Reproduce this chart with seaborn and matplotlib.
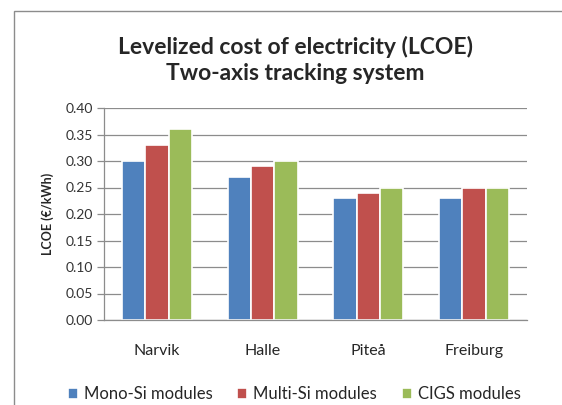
import matplotlib
matplotlib.use("Agg")
import matplotlib.pyplot as plt
import seaborn as sns
import pandas as pd
from matplotlib.patches import Rectangle

cities = ['Narvik', 'Halle', 'Piteå', 'Freiburg']
modules = ['Mono-Si modules', 'Multi-Si modules', 'CIGS modules']
mono_si = [0.30, 0.27, 0.23, 0.23]
multi_si = [0.33, 0.29, 0.24, 0.25]
cigs = [0.36, 0.30, 0.25, 0.25]
yticks = [0.00, 0.05, 0.10, 0.15, 0.20, 0.25, 0.30, 0.35, 0.40]
colors = ['#4F81BD', '#C0504D', '#9BBB59']

df = pd.DataFrame({'City': cities * 3,
                   'Module': [m for m in modules for _ in cities],
                   'LCOE': mono_si + multi_si + cigs})

sns.set_style('white')
plt.rcParams['font.family'] = ['Lato', 'DejaVu Sans']

fig = plt.figure(figsize=(5.62, 4.05), dpi=100)
ax = fig.add_axes([104 / 562, 1 - 320 / 405, (527 - 104) / 562, (320 - 108) / 405])

sns.barplot(data=df, x='City', y='LCOE', hue='Module', order=cities, hue_order=modules,
            palette=colors, width=0.66, edgecolor='white', linewidth=1.2,
            saturation=1, ax=ax, legend=True)

ax.set_ylim(0, 0.40)
ax.set_xlim(-0.5, 3.5)
ax.set_yticks(yticks)
ax.set_yticklabels([f'{v:.2f}' for v in yticks], fontsize=10, color='#333333')
ax.yaxis.grid(True, color='#8c8c8c', linewidth=0.9)
ax.set_axisbelow(True)
ax.tick_params(axis='x', length=0, labelsize=11.5, pad=17)
ax.tick_params(axis='y', length=5, width=0.9, color='#8c8c8c', left=True, pad=3)
for s in ['top', 'right']:
    ax.spines[s].set_visible(False)
for s in ['left', 'bottom']:
    ax.spines[s].set_color('#8c8c8c')
    ax.spines[s].set_linewidth(0.9)
ax.set_xlabel('')
ax.set_ylabel('LCOE (€/kWh)', fontsize=9, fontweight='bold', labelpad=8)

leg = ax.legend(loc='center', bbox_to_anchor=(0.45, -0.35), ncol=3, frameon=False,
                fontsize=12, handlelength=0.6, handleheight=0.6, handletextpad=0.35,
                columnspacing=1.5)

fig.text(0.525, 1 - 60 / 405, 'Levelized cost of electricity (LCOE)\nTwo-axis tracking system',
         ha='center', va='center', fontsize=16.5, fontweight='bold', linespacing=1.3)

fig.patches.append(Rectangle((14 / 562, -0.1), 1.2, 1.1 - 11 / 405, transform=fig.transFigure,
                             fill=False, edgecolor='#8c8c8c', linewidth=1.0))

fig.savefig('out.png', dpi=100)
